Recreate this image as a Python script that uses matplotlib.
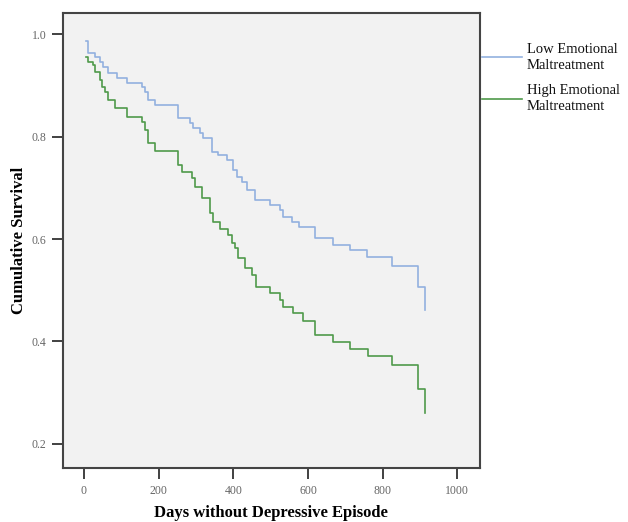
import matplotlib.pyplot as plt

# Kaplan-Meier step data (time in days, cumulative survival)
low_days = [0, 5, 12, 29, 43, 51, 65, 88, 115, 155, 163, 171, 190, 252, 283, 292,
            310, 318, 342, 359, 382, 399, 410, 423, 436, 458, 498, 525, 533, 556,
            575, 618, 666, 712, 757, 824, 894, 912]
low_surv = [0.987, 0.987, 0.964, 0.956, 0.946, 0.936, 0.924, 0.914, 0.905, 0.897,
            0.887, 0.871, 0.861, 0.836, 0.826, 0.817, 0.807, 0.797, 0.770, 0.764,
            0.754, 0.735, 0.721, 0.711, 0.696, 0.676, 0.666, 0.657, 0.643, 0.633,
            0.623, 0.602, 0.588, 0.579, 0.565, 0.547, 0.506, 0.461]

high_days = [0, 5, 12, 25, 29, 43, 48, 56, 65, 83, 115, 155, 163, 171, 190, 252,
             262, 289, 297, 316, 337, 345, 364, 385, 396, 404, 412, 431, 449, 462,
             498, 525, 533, 559, 586, 618, 666, 712, 760, 824, 894, 912]
high_surv = [0.956, 0.956, 0.946, 0.940, 0.926, 0.910, 0.897, 0.887, 0.871, 0.856,
             0.839, 0.829, 0.813, 0.787, 0.772, 0.744, 0.731, 0.719, 0.701, 0.680,
             0.650, 0.634, 0.620, 0.607, 0.592, 0.582, 0.563, 0.543, 0.529, 0.506,
             0.495, 0.481, 0.467, 0.456, 0.440, 0.413, 0.399, 0.385, 0.372, 0.354,
             0.307, 0.260]

labels = ["Low Emotional\nMaltreatment", "High Emotional\nMaltreatment"]
x_ticks = [0, 200, 400, 600, 800, 1000]
y_ticks = [0.2, 0.4, 0.6, 0.8, 1.0]

plt.rcParams['font.family'] = ['Liberation Serif', 'DejaVu Serif']

fig = plt.figure(figsize=(6.28, 5.22), dpi=100)
ax = fig.add_axes([0.1003, 0.1034, 0.6637, 0.8716])
ax.set_facecolor('#f2f2f2')

# first point only marks the start of each curve
ax.step(low_days[1:], low_surv[1:], where='post', color='#92b1df', lw=1.2, label=labels[0])
ax.step(high_days[1:], high_surv[1:], where='post', color='#4f9a4a', lw=1.2, label=labels[1])

ax.set_xlim(-56, 1060)
ax.set_ylim(0.153, 1.041)
ax.set_xticks(x_ticks)
ax.set_yticks(y_ticks)
ax.set_yticklabels([f"{v:.1f}" for v in y_ticks])

ax.tick_params(direction='out', length=8, width=1.3, color='#333333',
               labelsize=8.5, labelcolor='#666666', pad=4)
for side in ax.spines.values():
    side.set_color('#444444')
    side.set_linewidth(1.5)

ax.set_xlabel("Days without Depressive Episode", fontsize=12, fontweight='bold', labelpad=6)
ax.set_ylabel("Cumulative Survival", fontsize=12, fontweight='bold', labelpad=3)

leg = ax.legend(loc='upper left', bbox_to_anchor=(1.005, 0.935), frameon=False,
                prop={'size': 10.5}, handlelength=2.75, handletextpad=0.34,
                labelspacing=0.88, borderpad=0, borderaxespad=0)
for t in leg.get_texts():
    t.set_color('#111111')
    t.set_linespacing(1.3)

fig.savefig("out.png", dpi=100, facecolor='white')
